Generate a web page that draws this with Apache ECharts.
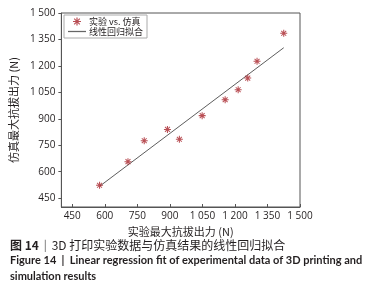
<!DOCTYPE html>
<html>
<head>
<meta charset="utf-8">
<script src="https://cdn.jsdelivr.net/npm/echarts@6/dist/echarts.min.js"></script>
<style>
  html, body { margin: 0; padding: 0; background: #fff; }
  #main { width: 384px; height: 301px; }
</style>
</head>
<body>
<div id="main"></div>
<script>
  // 实验 vs. 仿真
  let expVals = [576, 707, 782, 889, 944, 1049, 1155, 1215, 1259, 1302, 1425];
  let simVals = [523, 657, 776, 840, 784, 918, 1008, 1065, 1131, 1226, 1385];
  // 线性回归拟合 end points
  let fitX = [578, 1425];
  let fitY = [519, 1303];
  let tickVals = [450, 600, 750, 900, 1050, 1200, 1350, 1500];

  function fmt(v) {
    if (v >= 1000) return Math.floor(v / 1000) + ' ' + String(v % 1000).padStart(3, '0');
    return String(v);
  }

  let star = 'path://M-0.6,-4L0.6,-4L0.6,4L-0.6,4Z M-4,-0.6L4,-0.6L4,0.6L-4,0.6Z M-3.2,-2.4L-2.4,-3.2L3.2,2.4L2.4,3.2Z M2.4,-3.2L3.2,-2.4L-2.4,3.2L-3.2,2.4Z';
  let dash = 'path://M0,0L20,0L20,1.4L0,1.4Z';

  let chart = echarts.init(document.getElementById('main'));
  let axisCommon = {
    type: 'value',
    min: 400,
    max: 1500,
    nameLocation: 'middle',
    nameTextStyle: { fontFamily: 'Noto Sans CJK SC', fontSize: 11, color: '#231f20' },
    axisLine: { show: true, lineStyle: { color: '#555', width: 1 } },
    splitLine: { show: false },
    axisLabel: {
      customValues: tickVals,
      formatter: fmt,
      color: '#231f20',
      fontSize: 10,
      fontFamily: 'Open Sans'
    }
  };

  let option = {
    animation: false,
    grid: {
      left: 61, right: 84, top: 13, bottom: 94,
      show: true, borderColor: '#555', borderWidth: 1
    },
    legend: {
      orient: 'vertical',
      left: 64,
      top: 15,
      padding: [2, 4],
      itemGap: 1,
      itemWidth: 18,
      itemHeight: 8,
      borderColor: '#aaa',
      borderWidth: 1,
      textStyle: { fontSize: 9, fontFamily: 'Noto Sans CJK SC', color: '#231f20', padding: [0, 0, 0, -2] },
      data: [
        { name: '实验 vs. 仿真', icon: star, itemStyle: { color: '#a8232b' } },
        { name: '线性回归拟合', icon: dash, itemStyle: { color: '#666' } }
      ]
    },
    xAxis: Object.assign({}, axisCommon, {
      name: '实验最大抗拔出力 (N)',
      nameGap: 15,
      axisTick: { show: true, inside: true, length: 3, customValues: tickVals, lineStyle: { color: '#555' } },
      axisLabel: Object.assign({}, axisCommon.axisLabel, { margin: 4 })
    }),
    yAxis: Object.assign({}, axisCommon, {
      name: '仿真最大抗拔出力 (N)',
      nameGap: 38,
      nameRotate: 90,
      axisTick: { show: true, inside: false, length: 3, customValues: tickVals, lineStyle: { color: '#555' } },
      axisLabel: Object.assign({}, axisCommon.axisLabel, { margin: 6 })
    }),
    series: [
      {
        name: '实验 vs. 仿真',
        type: 'scatter',
        symbol: star,
        symbolSize: 7,
        itemStyle: { color: '#a8232b' },
        data: expVals.map((x, i) => [x, simVals[i]]),
        z: 3
      },
      {
        name: '线性回归拟合',
        type: 'line',
        showSymbol: false,
        symbol: 'none',
        itemStyle: { color: '#666' },
        lineStyle: { color: '#333', width: 0.8 },
        data: fitX.map((x, i) => [x, fitY[i]]),
        z: 2
      }
    ],
    graphic: [
      {
        type: 'text', left: 10, top: 239,
        style: {
          text: '{b|图 14}{s|  |  }{n|3D 打印实验数据与仿真结果的线性回归拟合}',
          rich: {
            b: { fontFamily: 'Noto Sans CJK SC', fontWeight: 'bold', fontSize: 12, fill: '#231f20' },
            s: { fontFamily: 'Noto Sans CJK SC', fontSize: 11, fill: '#555' },
            n: { fontFamily: 'Noto Sans CJK SC', fontSize: 12, fill: '#231f20' }
          }
        }
      },
      {
        type: 'text', left: 10, top: 255,
        style: {
          text: 'Figure 14  |  Linear regression fit of experimental data of 3D printing and',
          fontFamily: 'Lato', fontWeight: 'bold', fontSize: 11, fill: '#231f20'
        }
      },
      {
        type: 'text', left: 10, top: 271,
        style: {
          text: 'simulation results',
          fontFamily: 'Lato', fontWeight: 'bold', fontSize: 11, fill: '#231f20'
        }
      }
    ]
  };
  chart.setOption(option);
</script>
</body>
</html>
